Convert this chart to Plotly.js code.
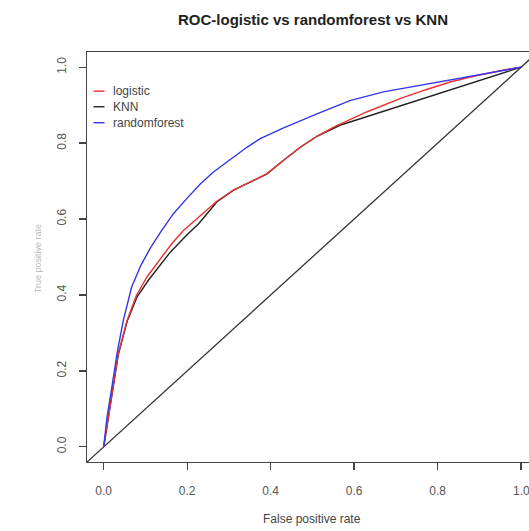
<!DOCTYPE html>
<html>
<head>
<meta charset="utf-8">
<script src="https://cdn.plot.ly/plotly-3.0.1.min.js"></script>
<style>html,body{margin:0;padding:0;background:#fff;}#chart{width:529px;height:531px;}</style>
</head>
<body>
<div id="chart"></div>
<script>
// ROC curve data
const logisticFPR = [0, 0.012, 0.023, 0.035, 0.056, 0.078, 0.104, 0.139, 0.163, 0.191, 0.219, 0.250, 0.271, 0.311, 0.350, 0.391, 0.431, 0.471, 0.511, 0.551, 0.630, 0.710, 0.770, 0.830, 0.886, 0.930, 0.965, 1.0];
const logisticTPR = [0, 0.088, 0.158, 0.246, 0.333, 0.398, 0.448, 0.500, 0.535, 0.570, 0.597, 0.625, 0.647, 0.676, 0.697, 0.719, 0.755, 0.789, 0.818, 0.842, 0.882, 0.917, 0.940, 0.961, 0.976, 0.987, 0.994, 1.0];

const knnFPR = [0, 0.012, 0.023, 0.035, 0.056, 0.080, 0.108, 0.139, 0.159, 0.179, 0.199, 0.227, 0.255, 0.271, 0.311, 0.350, 0.391, 0.431, 0.471, 0.511, 0.566, 1.0];
const knnTPR = [0, 0.085, 0.155, 0.243, 0.330, 0.395, 0.440, 0.483, 0.512, 0.535, 0.558, 0.587, 0.625, 0.645, 0.676, 0.697, 0.719, 0.755, 0.789, 0.818, 0.847, 1.0];

const rfFPR = [0, 0.008, 0.020, 0.032, 0.047, 0.067, 0.090, 0.112, 0.137, 0.167, 0.200, 0.232, 0.263, 0.311, 0.343, 0.375, 0.431, 0.511, 0.590, 0.670, 0.711, 0.790, 0.862, 0.950, 1.0];
const rfTPR = [0, 0.078, 0.160, 0.246, 0.333, 0.421, 0.480, 0.524, 0.567, 0.614, 0.655, 0.693, 0.724, 0.763, 0.789, 0.812, 0.840, 0.877, 0.912, 0.935, 0.943, 0.960, 0.974, 0.991, 1.0];

const diagonal = [-0.1, 1.1];

const seriesNames = ["logistic", "KNN", "randomforest"];
const seriesColors = ["#e8332f", "#222222", "#3535ee"];
const xTickVals = [0, 0.2, 0.4, 0.6, 0.8, 1.0];
const xTickText = ["0.0", "0.2", "0.4", "0.6", "0.8", "1.0"];
const yTickVals = [0, 0.2, 0.4, 0.6, 0.8, 1.0];
const yTickText = ["0.0", "0.2", "0.4", "0.6", "0.8", "1.0"];

const W = 529, H = 531;
const M = {l: 87, r: 0, t: 51.5, b: 69};
const plotW = W - M.l - M.r, plotH = H - M.t - M.b;
const px2paperX = px => (px - M.l) / plotW;
const py2paperY = py => (H - M.b - py) / plotH;

const FONT = "Liberation Sans, Arial, Helvetica, sans-serif";
const LW = 1.4;

const traces = [
  {x: diagonal, y: diagonal, mode: "lines", line: {color: "#333", width: 1.3}, showlegend: false, hoverinfo: "skip"},
  {x: knnFPR, y: knnTPR, mode: "lines", name: seriesNames[1], line: {color: seriesColors[1], width: LW}, showlegend: false},
  {x: logisticFPR, y: logisticTPR, mode: "lines", name: seriesNames[0], line: {color: seriesColors[0], width: LW}, showlegend: false},
  {x: rfFPR, y: rfTPR, mode: "lines", name: seriesNames[2], line: {color: seriesColors[2], width: LW}, showlegend: false}
];

const legendY = [90.7, 106.3, 122.3];
const shapes = [];
const annotations = [];
seriesNames.forEach((n, i) => {
  shapes.push({type: "line", xref: "paper", yref: "paper",
    x0: px2paperX(93.5), x1: px2paperX(104.5), y0: py2paperY(legendY[i]), y1: py2paperY(legendY[i]),
    line: {color: seriesColors[i], width: LW}});
  annotations.push({xref: "paper", yref: "paper", x: px2paperX(110.5), y: py2paperY(legendY[i]),
    xanchor: "left", yanchor: "middle", showarrow: false, text: n,
    font: {family: FONT, size: 12, color: "#444"}});
});
// last x tick label (cut at the window edge, as in the reference)
annotations.push({xref: "x", yref: "paper", x: xTickVals[xTickVals.length - 1], y: 0, yshift: -29, xanchor: "center", yanchor: "middle",
  showarrow: false, text: xTickText[xTickText.length - 1], font: {family: FONT, size: 12, color: "#555"}});
annotations.push({xref: "x", yref: "paper", x: 0.5, y: 0, yshift: -57, xanchor: "center", yanchor: "middle",
  showarrow: false, text: "False positive rate", font: {family: FONT, size: 12, color: "#444"}});
annotations.push({xref: "paper", yref: "paper", x: px2paperX(38), y: py2paperY(259), xanchor: "center", yanchor: "middle",
  showarrow: false, textangle: -90, text: "True positive rate", font: {family: FONT, size: 9, color: "#bbb"}});

const layout = {
  width: W, height: H,
  margin: M,
  paper_bgcolor: "#fff", plot_bgcolor: "#fff",
  title: {text: "<b>ROC-logistic vs randomforest vs KNN</b>", x: 313 / W, xanchor: "center", xref: "container",
    y: 1 - 20 / H, yanchor: "middle", yref: "container", font: {family: FONT, size: 15, color: "#222"}},
  xaxis: {range: [-0.04, -0.04 + plotW / 417.4], tickvals: xTickVals, ticktext: xTickText, showgrid: false, zeroline: false,
    showline: true, mirror: true, linecolor: "#444", linewidth: 1.3, ticks: "outside", ticklen: 7, tickcolor: "#444",
    tickwidth: 1.3, tickfont: {family: FONT, size: 12, color: "#555"}, ticklabelstandoff: 10, fixedrange: true},
  yaxis: {range: [-0.04, 1.04], tickvals: yTickVals, ticktext: yTickText, showgrid: false, zeroline: false,
    showline: true, mirror: false, linecolor: "#444", linewidth: 1.3, ticks: "outside", ticklen: 7, tickcolor: "#444",
    tickwidth: 1.3, tickangle: -90, tickfont: {family: FONT, size: 12, color: "#555"}, ticklabelstandoff: 8, fixedrange: true},
  shapes: shapes,
  annotations: annotations,
  showlegend: false
};

Plotly.newPlot("chart", traces, layout, {displayModeBar: false, staticPlot: true});
</script>
</body>
</html>
